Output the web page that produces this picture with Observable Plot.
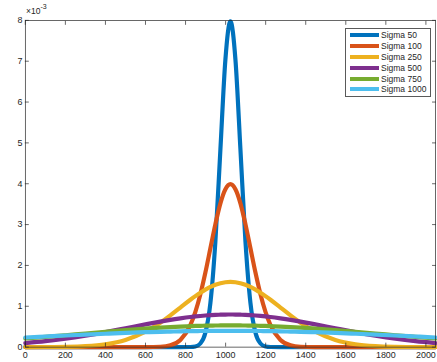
<!DOCTYPE html>
<html><head><meta charset="utf-8">
<script src="https://cdn.jsdelivr.net/npm/d3@7"></script>
<script src="https://cdn.jsdelivr.net/npm/@observablehq/plot@0.6"></script>
<style>
html,body{margin:0;padding:0;background:#fff;overflow:hidden;}
#wrap{position:relative;width:437px;height:362px;overflow:hidden;font-family:"Liberation Sans",Arial,sans-serif;color:#262626;}
#wrap svg{position:absolute;left:0;top:0;}
.expo{position:absolute;left:26px;top:4px;font-size:8.5px;color:#262626;}
.expo sup{font-size:7px;position:relative;top:-1px;}
.legend{position:absolute;left:345px;top:28px;width:84px;height:66px;border:1px solid #5a5a5a;background:#fff;padding-top:0.6px;box-sizing:content-box;}
.row{height:10.9px;display:flex;align-items:center;font-size:8.5px;white-space:nowrap;}
.sw{width:29px;height:4px;margin-left:4px;margin-right:2px;}
</style></head><body><div id="wrap"></div>
<script>
// x positions (same for all series)
const xValues = [0,100,200,300,400,500,600,674,724,774,824,849,874,899,924,949,974,999,1024,1049,1074,1099,1124,1149,1174,1199,1224,1274,1324,1374,1448,1548,1648,1748,1848,1948,2048];
// values in units of 1e-3
const sigma50   = [0,0,0,0,0,0,0,0,0,0,0.003,0.017,0.089,0.351,1.080,2.591,4.839,7.041,7.979,7.041,4.839,2.591,1.080,0.351,0.089,0.017,0.003,0,0,0,0,0,0,0,0,0,0];
const sigma100  = [0,0,0,0,0,0,0.001,0.009,0.044,0.175,0.540,0.863,1.295,1.826,2.420,3.011,3.521,3.866,3.989,3.866,3.521,3.011,2.420,1.826,1.295,0.863,0.540,0.175,0.044,0.009,0.001,0,0,0,0,0,0];
const sigma250  = [0,0.002,0.007,0.024,0.071,0.177,0.379,0.599,0.777,0.968,1.159,1.249,1.333,1.408,1.473,1.526,1.564,1.588,1.596,1.588,1.564,1.526,1.473,1.408,1.333,1.249,1.159,0.968,0.777,0.599,0.379,0.177,0.071,0.024,0.007,0.002,0];
const sigma500  = [0.098,0.145,0.205,0.280,0.366,0.461,0.557,0.625,0.667,0.704,0.737,0.751,0.763,0.773,0.782,0.789,0.794,0.797,0.798,0.797,0.794,0.789,0.782,0.773,0.763,0.751,0.737,0.704,0.667,0.625,0.557,0.461,0.366,0.280,0.205,0.145,0.098];
const sigma750  = [0.209,0.249,0.291,0.334,0.376,0.417,0.453,0.477,0.491,0.503,0.513,0.518,0.521,0.525,0.527,0.529,0.531,0.532,0.532,0.532,0.531,0.529,0.527,0.525,0.521,0.518,0.513,0.503,0.491,0.477,0.453,0.417,0.376,0.334,0.291,0.249,0.209];
const sigma1000 = [0.236,0.260,0.284,0.307,0.328,0.348,0.365,0.375,0.381,0.387,0.391,0.393,0.394,0.396,0.397,0.398,0.398,0.399,0.399,0.399,0.398,0.398,0.397,0.396,0.394,0.393,0.391,0.387,0.381,0.375,0.365,0.348,0.328,0.307,0.284,0.260,0.236];

const seriesNames = ["Sigma 50","Sigma 100","Sigma 250","Sigma 500","Sigma 750","Sigma 1000"];
const seriesColors = ["#0072BD","#D95319","#EDB120","#7E2F8E","#77AC30","#4DBEEE"];
const xTicks = [0,200,400,600,800,1000,1200,1400,1600,1800,2000];
const yTicks = [0,1,2,3,4,5,6,7,8];
const yExponent = "-3";

const allSeries = [sigma50, sigma100, sigma250, sigma500, sigma750, sigma1000];
const table = [];
allSeries.forEach((vals, i) => vals.forEach((v, j) => table.push({series: seriesNames[i], x: xValues[j], y: v})));

const axisColor = "#262626";
const fmt = d => String(d);
const chart = Plot.plot({
  width: 440, height: 362,
  marginLeft: 25, marginRight: 2, marginTop: 20, marginBottom: 13,
  style: {fontFamily: "Liberation Sans, Arial, sans-serif", fontSize: "9px", color: axisColor, background: "transparent"},
  x: {domain: [0, 2048]},
  y: {domain: [0, 8]},
  color: {domain: seriesNames, range: seriesColors},
  marks: [
    Plot.line(table, {x: "x", y: "y", z: "series", stroke: "series", strokeWidth: 4.2, curve: "monotone-x", strokeLinejoin: "round"}),
    Plot.frame({stroke: axisColor, strokeWidth: 0.7}),
    Plot.axisX({anchor: "bottom", ticks: xTicks, tickSize: -4, tickPadding: 9, tickFormat: fmt, label: null, stroke: axisColor, strokeWidth: 0.7, fill: axisColor}),
    Plot.axisX({anchor: "top", ticks: xTicks, tickSize: -4, tickFormat: () => "", label: null, stroke: axisColor, strokeWidth: 0.7}),
    Plot.axisY({anchor: "left", ticks: yTicks, tickSize: -4, tickPadding: 7, tickFormat: fmt, label: null, stroke: axisColor, strokeWidth: 0.7, fill: axisColor}),
    Plot.axisY({anchor: "right", ticks: yTicks, tickSize: -4, tickFormat: () => "", label: null, stroke: axisColor, strokeWidth: 0.7})
  ]
});
const wrap = document.getElementById("wrap");
wrap.appendChild(chart);

const expo = document.createElement("div");
expo.className = "expo";
expo.innerHTML = "×10<sup>" + yExponent + "</sup>";
wrap.appendChild(expo);

const legend = document.createElement("div");
legend.className = "legend";
seriesNames.forEach((name, i) => {
  const row = document.createElement("div");
  row.className = "row";
  const sw = document.createElement("div");
  sw.className = "sw";
  sw.style.background = seriesColors[i];
  const t = document.createElement("span");
  t.textContent = name;
  row.appendChild(sw); row.appendChild(t);
  legend.appendChild(row);
});
wrap.appendChild(legend);
</script></body></html>
